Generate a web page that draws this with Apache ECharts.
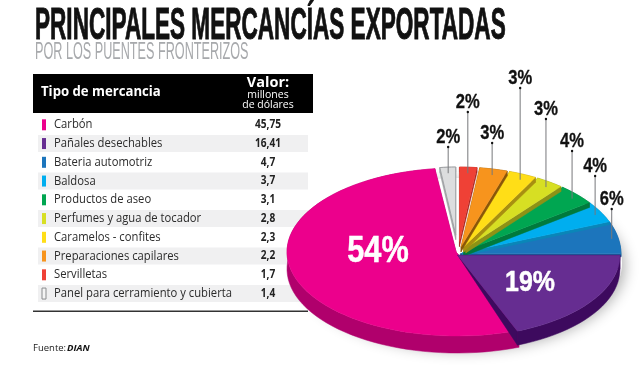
<!DOCTYPE html>
<html>
<head>
<meta charset="utf-8">
<style>
  html, body { margin: 0; padding: 0; background: #fff; }
  #chart { width: 640px; height: 370px; }
</style>
<script src="https://cdn.jsdelivr.net/npm/echarts@6/dist/echarts.min.js"></script>
</head>
<body>
<div id="chart"></div>
<script>
const categories = ['Carbón', 'Pañales desechables', 'Bateria automotriz', 'Baldosa', 'Productos de aseo',
    'Perfumes y agua de tocador', 'Caramelos - confites', 'Preparaciones capilares', 'Servilletas',
    'Panel para cerramiento y cubierta'];
const values = [45.75, 16.41, 4.7, 3.7, 3.1, 2.8, 2.3, 2.2, 1.7, 1.4];
const percents = [54, 19, 6, 4, 4, 3, 3, 3, 2, 2];

// Colores de cada tajada: cara superior y pared
const topColors = ['#ec008c', '#662d91', '#1c75bc', '#00aeef', '#00a651', '#d7df23', '#ffde17', '#f7941d', '#ef4136', '#dcddde'];
const wallColors = ['#b0006c', '#3d0a5e', '#17609c', '#0a86b8', '#007a3d', '#8d9216', '#a88f10', '#8a5608', '#a3201a', '#a0a2a5'];

// Geometria de las tajadas
const centerX = [457, 457, 458, 458, 458, 458, 458, 458, 458, 458];
const centerY = [252, 255, 254, 254, 254, 254, 254, 254, 254, 254];
const radiusX = [170, 163, 163, 163, 163, 163, 163, 163, 163, 163];
const radiusY = [84, 82, 87, 87, 87, 87, 87, 87, 87, 87];
const depths = [17, 14, 3, 3, 5, 5, 5, 5, 5, 5];
const gaps = [0.005, 0.003, 0.003, 0.004, 0.006, 0.008, 0.008, 0.008, 0.009, 0.014];
const layers = [1, 100, 10, 11, 12, 13, 14, 15, 16, 17];
const startAngle = 262.8;

// Posicion de las etiquetas
const labelX = [378, 530];
const labelY = [252, 283, 199, 166, 141, 109, 78, 133, 102, 137];
const labelSize = [37, 30, 19.5, 19.5, 19.5, 19.5, 19.5, 19.5, 19.5, 19.5];

const boldFont = "'Liberation Sans', sans-serif";
const bodyFont = "'Open Sans', sans-serif";

function sliceAngles(index) {
    let end = startAngle;
    for (let i = 0; i < index; i++) end -= percents[i] / 100 * 360;
    return [end - percents[index] / 100 * 360, end];
}

function ellipsePoint(i, deg, scale) {
    const a = deg * Math.PI / 180;
    return [centerX[i] + radiusX[i] * scale * Math.cos(a), centerY[i] + radiusY[i] * scale * Math.sin(a)];
}

// Contorno de la tajada con el hueco ya descontado: vertice y arco
function sliceOutline(i) {
    const [a0, a1] = sliceAngles(i);
    const half = (a1 - a0) / 2 * Math.PI / 180;
    const inset = gaps[i] * 180 / Math.PI;
    const apex = ellipsePoint(i, (a0 + a1) / 2, gaps[i] / Math.sin(half));
    const arc = [];
    const steps = Math.max(4, Math.ceil((a1 - a0) / 3));
    for (let s = 0; s <= steps; s++) {
        arc.push(ellipsePoint(i, a0 + inset + (a1 - a0 - 2 * inset) * s / steps, 1));
    }
    return { apex: apex, arc: arc };
}

function renderSlice(params, api) {
    const i = params.dataIndex;
    const z = layers[i];
    const { apex, arc } = sliceOutline(i);
    const d = depths[i];
    const first = arc[0];
    const last = arc[arc.length - 1];
    const drop = p => [p[0], p[1] + d];
    const children = [];

    if (i === 0) {
        children.push({
            type: 'ellipse', z2: -1,
            shape: { cx: 459, cy: 263, rx: 163, ry: 85 },
            style: { fill: '#fff', shadowBlur: 14, shadowColor: 'rgba(0,0,0,0.3)', shadowOffsetX: 3, shadowOffsetY: 3 }
        });
    }

    // Paredes: el arco exterior y los dos bordes rectos
    // En las tajadas grandes el borde recto se afina hacia el vertice
    const apexLow = i < 2 ? apex : drop(apex);
    [
        arc.concat(arc.slice().reverse().map(drop)),
        [apex, first, drop(first), apexLow],
        [apex, last, drop(last), apexLow]
    ].forEach(points => {
        children.push({
            type: 'polygon', z2: z,
            shape: { points: points },
            style: { fill: wallColors[i], stroke: wallColors[i], lineWidth: 0.5 }
        });
    });

    const isPanel = i === values.length - 1;
    children.push({
        type: 'polygon', z2: z + 0.5,
        shape: { points: [apex].concat(arc) },
        style: { fill: topColors[i], stroke: isPanel ? '#a0a2a5' : topColors[i], lineWidth: isPanel ? 1 : 0.4 }
    });

    const [a0, a1] = sliceAngles(i);
    const mid = (a0 + a1) / 2;
    const percent = api.value(0) + '%';
    if (i < 2) {
        children.push({
            type: 'text', z2: 200, x: labelX[i], y: labelY[i], scaleX: 0.83,
            style: { text: percent, fill: '#fff', stroke: '#fff', lineWidth: 0.5, font: 'bold ' + labelSize[i] + 'px ' + boldFont, align: 'center', verticalAlign: 'middle' }
        });
    } else {
        const anchorX = ellipsePoint(i, mid, 0.96)[0];
        const anchorY = ellipsePoint(i, mid, 0.93)[1];
        children.push({
            type: 'line', z2: 200,
            shape: { x1: anchorX, y1: anchorY, x2: anchorX, y2: labelY[i] + 10 },
            style: { stroke: '#77787b', lineWidth: 1 }
        });
        children.push({
            type: 'circle', z2: 201,
            shape: { cx: anchorX, cy: labelY[i] + 10, r: 1.2 },
            style: { fill: '#111' }
        });
        children.push({
            type: 'text', z2: 200, x: anchorX, y: labelY[i] + 1, scaleX: 0.85,
            style: { text: percent, fill: '#111', stroke: '#111', lineWidth: 0.3, font: 'bold ' + labelSize[i] + 'px ' + boldFont, align: 'center', verticalAlign: 'middle' }
        });
    }
    return { type: 'group', children: children };
}

function renderRow(params, api) {
    const i = params.dataIndex;
    const y = 124.8 + i * 18.75;
    const isPanel = i === values.length - 1;
    const children = [];
    if (i % 2 === 1) {
        children.push({ type: 'rect', shape: { x: 38, y: y - 8.5, width: 270, height: 17 }, style: { fill: '#f0f0f1' } });
    }
    children.push({
        type: 'rect', shape: { x: 42, y: y - 5.5, width: 4, height: 11 },
        style: { fill: isPanel ? '#f4f4f4' : topColors[i], stroke: isPanel ? '#8a8c8e' : null, lineWidth: 1 }
    });
    children.push({
        type: 'text', x: 54, y: y, scaleX: 0.915,
        style: { text: categories[i], fill: '#2b2b2b', font: '12.3px ' + bodyFont, align: 'left', verticalAlign: 'middle' }
    });
    children.push({
        type: 'text', x: 268, y: y, scaleX: 0.88,
        style: { text: String(api.value(0)).replace('.', ','), fill: '#222', font: 'bold 11.5px ' + bodyFont, align: 'center', verticalAlign: 'middle' }
    });
    return { type: 'group', children: children };
}

const chart = echarts.init(document.getElementById('chart'));

chart.setOption({
    animation: false,
    backgroundColor: '#fff',
    graphic: {
        elements: [
            { type: 'text', x: 35, y: 27, scaleX: 0.513, style: { text: 'PRINCIPALES MERCANCÍAS EXPORTADAS', fill: '#111', stroke: '#111', lineWidth: 1, font: 'bold 44px ' + boldFont, verticalAlign: 'middle' } },
            { type: 'text', x: 35, y: 53, scaleX: 0.538, style: { text: 'POR LOS PUENTES FRONTERIZOS', fill: '#a7a9ac', font: '23.5px ' + boldFont, verticalAlign: 'middle' } },
            { type: 'rect', shape: { x: 33, y: 74, width: 280, height: 39 }, style: { fill: '#000' } },
            { type: 'text', x: 41, y: 92, scaleX: 0.94, style: { text: 'Tipo de mercancia', fill: '#fff', font: 'bold 14px ' + bodyFont, verticalAlign: 'middle' } },
            { type: 'text', x: 268, y: 83, style: { text: 'Valor:', fill: '#fff', font: 'bold 14.5px ' + bodyFont, align: 'center', verticalAlign: 'middle' } },
            { type: 'text', x: 268, y: 95, style: { text: 'millones', fill: '#fff', font: '10.5px ' + bodyFont, align: 'center', verticalAlign: 'middle' } },
            { type: 'text', x: 268, y: 105, style: { text: 'de dólares', fill: '#fff', font: '10.5px ' + bodyFont, align: 'center', verticalAlign: 'middle' } },
            { type: 'rect', shape: { x: 33, y: 310.5, width: 275, height: 1.5 }, style: { fill: '#333' } },
            { type: 'text', x: 33, y: 348, style: { text: 'Fuente:', fill: '#222', font: '9.5px ' + bodyFont, verticalAlign: 'middle' } },
            { type: 'text', x: 67, y: 348, style: { text: 'DIAN', fill: '#111', font: 'italic bold 9.5px ' + bodyFont, verticalAlign: 'middle' } }
        ]
    },
    series: [
        { type: 'custom', coordinateSystem: 'none', z: 1, silent: true, renderItem: renderRow, data: values },
        { type: 'custom', coordinateSystem: 'none', z: 3, silent: true, renderItem: renderSlice, data: percents }
    ]
});
</script>
</body>
</html>
